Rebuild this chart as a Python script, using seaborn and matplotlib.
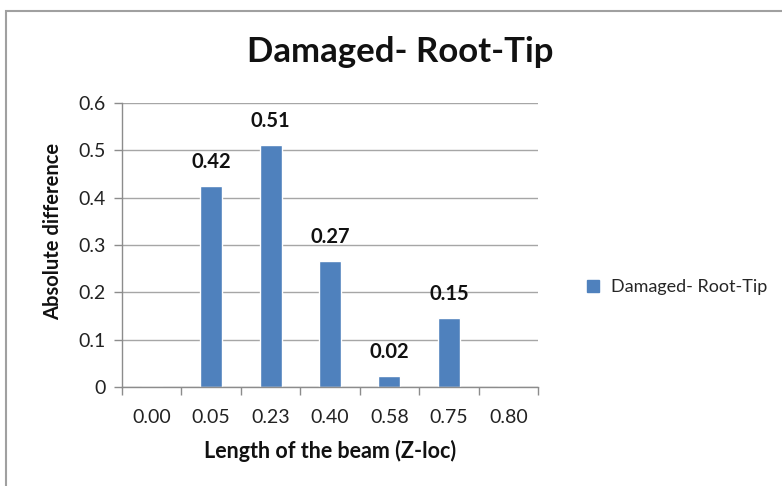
import matplotlib
matplotlib.use("Agg")
import matplotlib.pyplot as plt
import seaborn as sns
import pandas as pd
from matplotlib.patches import Rectangle
from matplotlib.lines import Line2D

categories = ["0.00", "0.05", "0.23", "0.40", "0.58", "0.75", "0.80"]
values = [0.0, 0.425, 0.511, 0.266, 0.024, 0.146, 0.0]
labels = ["", "0.42", "0.51", "0.27", "0.02", "0.15", ""]
yticks = [0, 0.1, 0.2, 0.3, 0.4, 0.5, 0.6]
ytick_labels = ["0", "0.1", "0.2", "0.3", "0.4", "0.5", "0.6"]
series_name = "Damaged- Root-Tip"

sns.set_theme(style="white")
plt.rcParams['font.family'] = ['Lato', 'DejaVu Sans']

df = pd.DataFrame({"cat": categories, "val": values})

fig = plt.figure(figsize=(7.82, 4.86), dpi=100)
ax = fig.add_axes([122/782, 1-387/486, (538-122)/782, (387-103)/486])

color = "#4F81BD"
sns.barplot(data=df, x="cat", y="val", order=categories, color=color,
            width=0.37, ax=ax, saturation=1)

ax.set_ylim(0, 0.6)
ax.set_xlim(-0.5, len(categories) - 0.5)
ax.set_yticks(yticks)
ax.set_yticklabels(ytick_labels, fontsize=14, color="#222222")
ax.yaxis.grid(True, color="#a6a6a6", linewidth=1.0)
ax.set_axisbelow(True)

# x ticks: boundaries as major (marks), labels at centers
ax.set_xticks([i - 0.5 for i in range(len(categories) + 1)])
ax.set_xticklabels([])
ax.set_xticks(range(len(categories)), minor=True)
ax.set_xticklabels(categories, minor=True, fontsize=14, color="#222222")
ax.tick_params(axis="x", which="major", direction="out", length=6, width=1, color="#8c8c8c", bottom=True)
ax.tick_params(axis="x", which="minor", length=0, pad=16)
ax.tick_params(axis="y", direction="out", length=6, width=1, color="#8c8c8c", left=True, pad=6)

for s in ["top", "right"]:
    ax.spines[s].set_visible(False)
for s in ["left", "bottom"]:
    ax.spines[s].set_color("#8c8c8c")
    ax.spines[s].set_linewidth(1.0)

for i, (v, lab) in enumerate(zip(values, labels)):
    if lab:
        ax.annotate(lab, (i, v), xytext=(0, 10), textcoords="offset points",
                    ha="center", va="bottom", fontsize=14.5, fontweight="bold", color="#111111")

ax.set_xlabel("Length of the beam (Z-loc)", fontsize=15.5, fontweight="bold", labelpad=10, color="#111111")
ax.set_ylabel("Absolute difference", fontsize=14.5, fontweight="bold", color="#111111")
ax.yaxis.set_label_coords((63 - 122) / 416, (387 - 231) / 284)

fig.text(400/782, 1-52/486, "Damaged- Root-Tip", ha="center", va="center",
         fontsize=25, fontweight="bold", color="#111111")

handle = Line2D([], [], marker="s", linestyle="none", markersize=8,
                markerfacecolor=color, markeredgecolor=color)
fig.legend([handle], [series_name], loc="center left",
           bbox_to_anchor=(568/782, 1-287/486), frameon=False,
           fontsize=13, handletextpad=0.0, borderaxespad=0)

fig.patches.append(Rectangle((6/782, -0.1), 1.2, 1 - 11/486 + 0.1, transform=fig.transFigure,
                             fill=False, edgecolor="#a0a0a0", linewidth=1.5))

fig.savefig("out.png", dpi=100)
